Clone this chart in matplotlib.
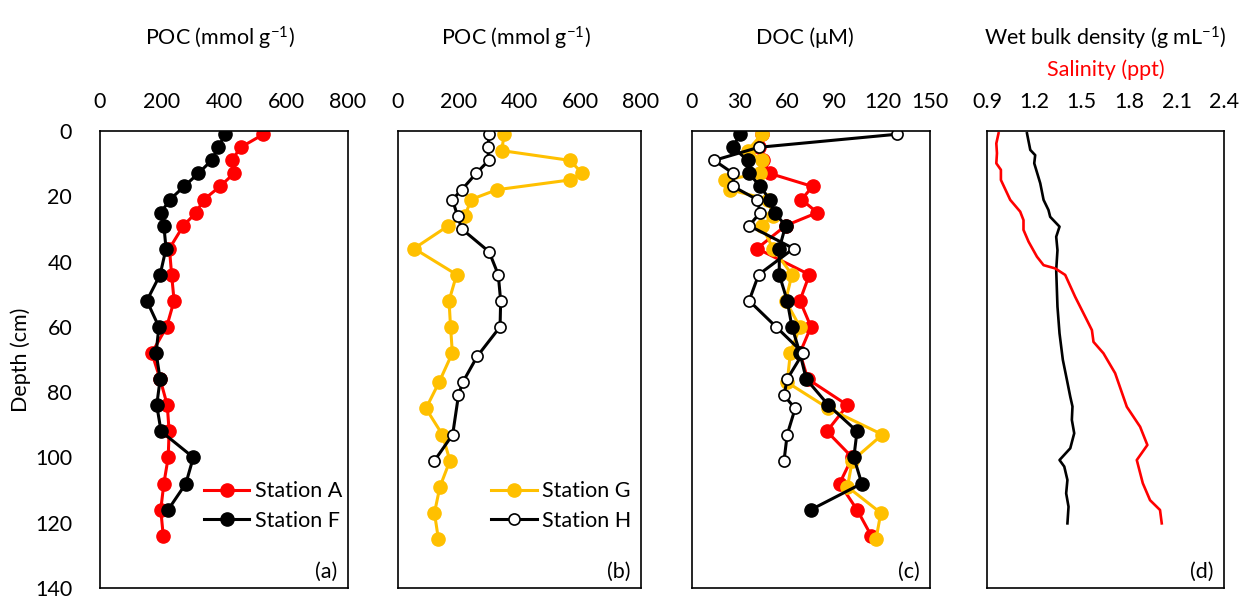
import matplotlib
matplotlib.use("Agg")
import matplotlib.pyplot as plt

plt.rcParams['font.family'] = ['Lato', 'DejaVu Sans']
plt.rcParams['mathtext.fontset'] = 'custom'
plt.rcParams['mathtext.rm'] = 'Lato'
plt.rcParams['mathtext.it'] = 'Lato:italic'

RED = '#FF0000'
YEL = '#FFC000'
BLK = '#000000'

# ---- (a) POC, stations A / F
depth_A = [1, 5, 9, 13, 17, 21, 25, 29, 36, 44, 52, 60, 68, 76, 84, 92, 100, 108, 116, 124]
poc_A = [527, 454, 425, 432, 387, 335, 310, 269, 224, 231, 239, 215, 167, 194, 217, 223, 220, 206, 196, 204]
depth_F = [1, 5, 9, 13, 17, 21, 25, 29, 36, 44, 52, 60, 68, 76, 84, 92, 100, 108, 116]
poc_F = [403, 382, 360, 317, 271, 226, 196, 206, 213, 194, 151, 190, 181, 194, 183, 197, 301, 277, 220]

# ---- (b) POC, stations G / H
depth_G = [1, 6, 9, 13, 15, 18, 21, 26, 29, 36, 44, 52, 60, 68, 77, 85, 93, 101, 109, 117, 125]
poc_G = [350, 341, 566, 607, 566, 325, 240, 221, 166, 53, 193, 168, 173, 179, 135, 92, 146, 171, 138, 120, 133]
depth_H_poc = [1, 5, 9, 13, 18, 21, 26, 30, 37, 44, 52, 60, 69, 77, 81, 93, 101]
poc_H = [301, 295, 299, 257, 210, 179, 196, 210, 300, 330, 338, 336, 261, 213, 199, 180, 120]

# ---- (c) DOC
doc_A = [44, 42, 45, 49, 76, 69, 79, 59, 41, 74, 68, 75, 68, 73, 98, 85, 101, 93, 104, 113]
doc_F = [30, 26, 35, 36, 43, 49, 52, 59, 55, 55, 60, 63, 68, 72, 86, 104, 102, 107, 75]
doc_G = [44, 35, 44, 43, 21, 24, 48, 51, 44, 51, 63, 59, 68, 62, 60, 86, 120, 101, 98, 119, 116]
depth_H_doc = [1, 5, 9, 13, 17, 21, 25, 29, 36, 44, 52, 60, 68, 76, 81, 85, 93, 101]
doc_H = [129, 42, 14, 26, 26, 41, 43, 36, 64, 42, 36, 53, 70, 60, 58, 65, 60, 58]

# ---- (d) wet bulk density / salinity
depth_wbd = [0.7, 5.8, 7.4, 9.9, 16.0, 21.1, 24.2, 26.3, 29.3, 32.4, 36.5, 42.6, 53.8, 62.0,
             70.1, 76.3, 81.4, 84.4, 88.5, 92.6, 97.2, 100.8, 102.8, 106.9, 111.0, 115.1, 120.2]
wbd = [1.153, 1.174, 1.205, 1.199, 1.237, 1.258, 1.289, 1.300, 1.359, 1.338, 1.346, 1.338, 1.346, 1.359,
       1.380, 1.406, 1.427, 1.441, 1.437, 1.452, 1.427, 1.359, 1.389, 1.409, 1.401, 1.416, 1.409]
depth_sal = [0.7, 3.8, 6.8, 9.9, 11.9, 15.0, 21.1, 24.7, 27.3, 30.3, 33.9, 38.5, 41.1, 42.1, 44.1,
             50.8, 57.9, 61.0, 64.6, 68.1, 74.2, 84.5, 90.6, 96.2, 100.8, 107.9, 113.1, 116.1, 120.2]
sal = [0.973, 0.959, 0.963, 0.959, 0.988, 0.988, 1.047, 1.110, 1.131, 1.131, 1.163, 1.216, 1.258, 1.332, 1.395,
       1.458, 1.532, 1.564, 1.574, 1.637, 1.711, 1.785, 1.869, 1.915, 1.848, 1.886, 1.932, 1.995, 2.006]

poc_ticks = [0, 200, 400, 600, 800]
doc_ticks = [0, 30, 60, 90, 120, 150]
d_ticks = [0.9, 1.2, 1.5, 1.8, 2.1, 2.4]
d_ticklabels = ['0.9', '1.2', '1.5', '1.8', '2.1', '2.4']
depth_ticks = [0, 20, 40, 60, 80, 100, 120, 140]

W, H = 1250, 601
fig = plt.figure(figsize=(W / 100, H / 100), dpi=100)

def px_axes(x0, x1, y0=131, y1=588):
    return fig.add_axes([x0 / W, 1 - y1 / H, (x1 - x0) / W, (y1 - y0) / H])

ax_a = px_axes(100, 348)
ax_b = px_axes(398, 641)
ax_c = px_axes(692, 930)
ax_d = px_axes(987, 1224)

FS = 15.5
for ax in (ax_a, ax_b, ax_c, ax_d):
    ax.set_ylim(140, 0)
    ax.set_yticks(depth_ticks)
    ax.xaxis.tick_top()
    ax.tick_params(axis='both', length=0, labelsize=FS, colors='black')
    ax.tick_params(axis='x', pad=14)
    ax.tick_params(axis='y', pad=20)
    for s in ax.spines.values():
        s.set_linewidth(1.2)
    if ax is not ax_a:
        ax.set_yticklabels([])

ax_a.set_ylabel('Depth (cm)', fontsize=FS, labelpad=3)

lw = 2.2
ms = 9.5
ax_a.plot(poc_A, depth_A, '-o', color=RED, lw=lw, ms=ms, label='Station A')
ax_a.plot(poc_F, depth_F, '-o', color=BLK, lw=lw, ms=ms, label='Station F')
ax_a.set_xlim(0, 800)
ax_a.set_xticks(poc_ticks)

ax_b.plot(poc_G, depth_G, '-o', color=YEL, lw=lw, ms=ms, label='Station G')
ax_b.plot(poc_H, depth_H_poc, '-o', color=BLK, lw=lw, ms=8, mfc='white', mew=1.2,
          label='Station H')
ax_b.set_xlim(0, 800)
ax_b.set_xticks(poc_ticks)

ax_c.plot(doc_A, depth_A, '-o', color=RED, lw=lw, ms=ms)
ax_c.plot(doc_G, depth_G, '-o', color=YEL, lw=lw, ms=ms)
ax_c.plot(doc_F, depth_F, '-o', color=BLK, lw=lw, ms=ms)
ax_c.plot(doc_H, depth_H_doc, '-o', color=BLK, lw=lw, ms=8, mfc='white', mew=1.2)
ax_c.set_xlim(0, 150)
ax_c.set_xticks(doc_ticks)

ax_d.plot(wbd, depth_wbd, '-', color=BLK, lw=1.9)
ax_d.plot(sal, depth_sal, '-', color=RED, lw=1.9)
ax_d.set_xlim(0.9, 2.4)
ax_d.set_xticks(d_ticks)
ax_d.set_xticklabels(d_ticklabels)

leg_kw = dict(frameon=False, fontsize=FS, handlelength=2.1, handletextpad=0.25,
              labelspacing=0.45, borderpad=0, borderaxespad=0, loc='lower right')
ax_a.legend(bbox_to_anchor=(0.975, 0.125), **leg_kw)
ax_b.legend(bbox_to_anchor=(0.96, 0.125), **leg_kw)

for ax, lab in zip((ax_a, ax_b, ax_c, ax_d), ('(a)', '(b)', '(c)', '(d)')):
    ax.text(0.955, 0.035, lab, transform=ax.transAxes, ha='right', va='center', fontsize=FS)

def cx(x0, x1):
    return (x0 + x1) / 2 / W

fig.text(cx(100, 348) - 0.003, 1 - 38 / H, 'POC (mmol g$^{-1}$)', ha='center', va='center', fontsize=FS)
fig.text(cx(398, 641) - 0.003, 1 - 38 / H, 'POC (mmol g$^{-1}$)', ha='center', va='center', fontsize=FS)
fig.text(cx(692, 930) - 0.005, 1 - 38 / H, 'DOC (μM)', ha='center', va='center', fontsize=FS)
fig.text(cx(987, 1224), 1 - 38 / H, 'Wet bulk density (g mL$^{-1}$)', ha='center', va='center', fontsize=FS)
fig.text(cx(987, 1224), 1 - 70 / H, 'Salinity (ppt)', ha='center', va='center', fontsize=FS, color=RED)

fig.savefig('out.png', dpi=100)
